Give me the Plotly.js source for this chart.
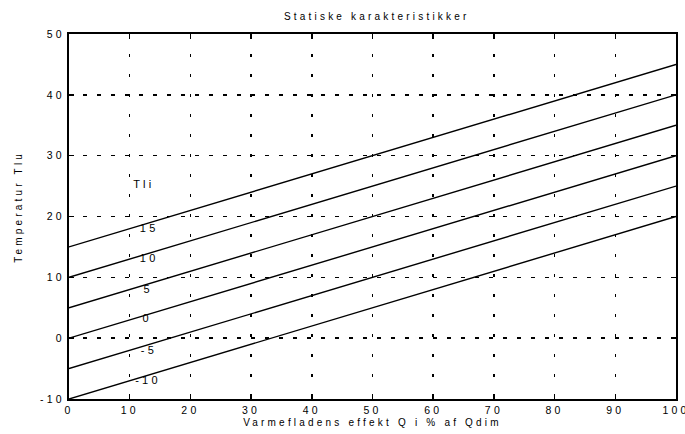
<!DOCTYPE html>
<html>
<head>
<meta charset="utf-8">
<script src="https://cdn.plot.ly/plotly-3.0.1.min.js"></script>
<style>
html,body{margin:0;padding:0;background:#fff;}
#chart{width:685px;height:434px;}
#chart text{letter-spacing:3.2px;}
#chart .annotation-text-g text.lbl{letter-spacing:2px;}
</style>
</head>
<body>
<div id="chart"></div>
<script>
// Q in % of Qdim
const effekt = [0, 10, 20, 30, 40, 50, 60, 70, 80, 90, 100];
// Tlu for each Tli curve
const tli15  = [15, 18, 21, 24, 27, 30, 33, 36, 39, 42, 45];
const tli10  = [10, 13, 16, 19, 22, 25, 28, 31, 34, 37, 40];
const tli5   = [5, 8, 11, 14, 17, 20, 23, 26, 29, 32, 35];
const tli0   = [0, 3, 6, 9, 12, 15, 18, 21, 24, 27, 30];
const tliM5  = [-5, -2, 1, 4, 7, 10, 13, 16, 19, 22, 25];
const tliM10 = [-10, -7, -4, -1, 2, 5, 8, 11, 14, 17, 20];
const curveLabels = ["15", "10", "5", "0", "-5", "-10"];
const labelQ = [11.8, 11.8, 12.2, 12.0, 12.0, 11.4];
const labelT = [18.1, 13.2, 8.1, 3.3, -1.9, -6.9];
const yTicks = [-10, 0, 10, 20, 30, 40, 50];
const xTicks = [0, 10, 20, 30, 40, 50, 60, 70, 80, 90, 100];

const series = [tli15, tli10, tli5, tli0, tliM5, tliM10];
const traces = series.map((s, i) => ({
  x: effekt, y: s, type: 'scatter', mode: 'lines',
  line: {color: '#000', width: 1.4}, name: curveLabels[i], hoverinfo: 'skip'
}));

const fontFam = 'Liberation Sans, Arial, sans-serif';
const annotations = curveLabels.map((t, i) => ({
  x: labelQ[i], y: labelT[i], text: t, showarrow: false, xanchor: 'left', yanchor: 'middle',
  font: {family: fontFam, size: 11, color: '#000'}
}));
annotations.push({x: 11.0, y: 25.3, text: 'Tli', showarrow: false, xanchor: 'left', yanchor: 'middle',
  font: {family: fontFam, size: 11, color: '#000'}});
annotations.push({xref: 'paper', yref: 'paper', x: -0.084, y: 0.525, text: 'Temperatur Tlu',
  textangle: -90, showarrow: false, xanchor: 'center', yanchor: 'middle',
  font: {family: fontFam, size: 10, color: '#000'}});

const layout = {
  width: 685, height: 434,
  margin: {l: 69, r: 9, t: 34, b: 35},
  paper_bgcolor: '#fff', plot_bgcolor: '#fff',
  showlegend: false,
  font: {family: fontFam, size: 10, color: '#000'},
  title: {text: 'Statiske karakteristikker', x: 0.55, xanchor: 'center', y: 0.962, yanchor: 'middle',
    font: {family: fontFam, size: 10, color: '#000'}},
  xaxis: {
    range: [0, 100], tickvals: xTicks, ticktext: xTicks.map(String),
    showgrid: true, gridcolor: '#000', gridwidth: 1.5, griddash: '3px,17px',
    showline: true, linecolor: '#000', linewidth: 2, mirror: 'ticks',
    ticks: 'inside', ticklen: 5, tickcolor: '#000', tickwidth: 1.5,
    zeroline: false, tickfont: {family: fontFam, size: 10.5},
    title: {text: 'Varmefladens effekt Q i % af Qdim', standoff: 4, font: {family: fontFam, size: 10}}
  },
  yaxis: {
    range: [-10, 50], tickvals: yTicks, ticktext: yTicks.map(String),
    showgrid: true, gridcolor: '#000', gridwidth: 1.5, griddash: '4px,10px',
    showline: true, linecolor: '#000', linewidth: 2, mirror: 'ticks',
    ticks: 'inside', ticklen: 5, tickcolor: '#000', tickwidth: 1.5,
    zeroline: false, tickfont: {family: fontFam, size: 10.5}
  },
  annotations: annotations
};

Plotly.newPlot('chart', traces, layout, {displayModeBar: false, staticPlot: true});
</script>
</body>
</html>
